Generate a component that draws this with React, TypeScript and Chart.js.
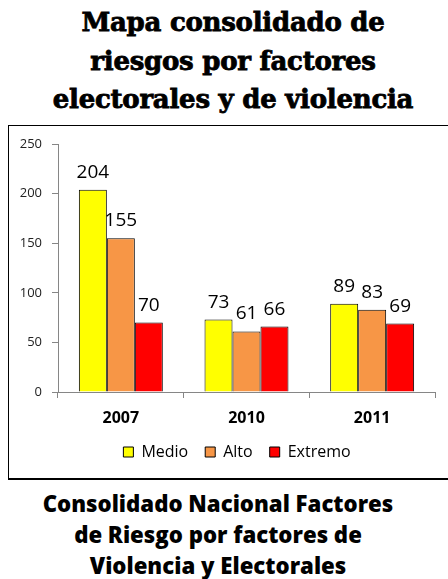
import React, { useEffect, useRef } from "react";
import { Chart, registerables } from "chart.js";

Chart.register(...registerables);

const categories = ["2007", "2010", "2011"];
const seriesNames = ["Medio", "Alto", "Extremo"];
const medio = [204, 73, 89];
const alto = [155, 61, 83];
const extremo = [70, 66, 69];
const seriesColors = ["#FFFF00", "#F79646", "#FF0000"];
const yTicks = [0, 50, 100, 150, 200, 250];

const titleLines = ["Mapa consolidado de", "riesgos por factores", "electorales y de violencia"];
const footerLines = ["Consolidado Nacional Factores", "de Riesgo por factores de", "Violencia y Electorales"];

const valueLabels = {
  id: "valueLabels",
  afterDatasetsDraw(chart: any) {
    const ctx = chart.ctx;
    ctx.save();
    ctx.font = "19px 'Open Sans'";
    ctx.fillStyle = "#000";
    ctx.textAlign = "center";
    ctx.textBaseline = "alphabetic";
    chart.data.datasets.forEach((ds: any, i: number) => {
      const meta = chart.getDatasetMeta(i);
      meta.data.forEach((el: any, j: number) => {
        ctx.fillText(String(ds.data[j]), el.x, el.y - 12);
      });
    });
    ctx.restore();
  },
};

const legendShift = {
  id: "legendShift",
  afterLayout(chart: any) {
    if (chart.legend) {
      chart.legend.left += 15;
      chart.legend.right += 15;
    }
  },
};

export default function App() {
  const ref = useRef<HTMLCanvasElement>(null);
  useEffect(() => {
    if (!ref.current) return;
    const seriesData = [medio, alto, extremo];
    const chart = new Chart(ref.current, {
      type: "bar",
      data: {
        labels: categories,
        datasets: seriesNames.map((n, i) => ({
          label: n,
          data: seriesData[i],
          backgroundColor: seriesColors[i],
          borderColor: "#000",
          borderWidth: 1,
          categoryPercentage: 0.668,
          barPercentage: 1,
        })),
      },
      options: {
        animation: false,
        responsive: false,
        devicePixelRatio: 1,
        layout: { padding: { left: 0, right: 13, top: 18, bottom: 8 } },
        plugins: {
          legend: {
            position: "bottom",
            labels: {
              font: { family: "'Open Sans'", size: 16 },
              color: "#000",
              boxWidth: 10,
              boxHeight: 10,
              padding: 17,
            },
          },
          tooltip: { enabled: false },
        },
        scales: {
          x: {
            grid: { display: true, drawOnChartArea: false, offset: true, tickLength: 6, color: "#868686" },
            border: { color: "#868686" },
            ticks: { font: { family: "'Open Sans'", size: 16, weight: "bold" }, color: "#000", padding: 11 },
            afterFit(scale: any) {
              scale.height = 35;
            },
          },
          y: {
            min: 0,
            max: 250,
            afterBuildTicks(scale: any) {
              scale.ticks = yTicks.map((v) => ({ value: v }));
            },
            grid: { display: true, drawOnChartArea: false, tickLength: 6, color: "#868686" },
            border: { color: "#868686" },
            ticks: { font: { family: "'Open Sans'", size: 13 }, color: "#222", padding: 10 },
            afterFit(scale: any) {
              scale.width = 49;
            },
          },
        },
      },
      plugins: [valueLabels, legendShift],
    });
    return () => chart.destroy();
  }, []);

  return (
    <div style={{ position: "absolute", left: 0, top: 0, width: 448, height: 579, overflow: "hidden", background: "#fff" }}>
      <div
        style={{
          position: "absolute",
          left: 9,
          top: 3,
          width: 448,
          textAlign: "center",
          fontFamily: "'DejaVu Serif'",
          fontWeight: "bold",
          fontSize: 26,
          letterSpacing: "-0.25px",
          lineHeight: "38.5px",
          color: "#000",
          WebkitTextStroke: "0.8px #000",
          whiteSpace: "nowrap",
        }}
      >
        {titleLines.map((l, i) => (
          <div key={i}>{l}</div>
        ))}
      </div>
      <div
        style={{
          position: "absolute",
          left: 8,
          top: 125,
          width: 439,
          height: 352,
          borderLeft: "1px solid #000",
          borderTop: "1px solid #000",
          borderBottom: "2px solid #000",
        }}
      >
        <canvas ref={ref} width={439} height={352} style={{ display: "block" }} />
      </div>
      <div
        style={{
          position: "absolute",
          left: -6,
          top: 488,
          width: 448,
          textAlign: "center",
          fontFamily: "'Open Sans'",
          fontWeight: 800,
          fontSize: 22.2,
          lineHeight: "31px",
          color: "#000",
          whiteSpace: "nowrap",
        }}
      >
        {footerLines.map((l, i) => (
          <div key={i}>{l}</div>
        ))}
      </div>
    </div>
  );
}
